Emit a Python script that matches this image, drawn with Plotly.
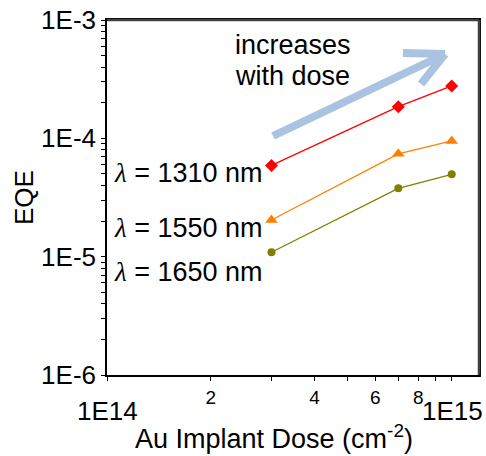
import plotly.graph_objects as go
import math

# Data
dose = [3e14, 7e14, 1e15]
eqe_1310 = [5.9e-5, 1.85e-4, 2.77e-4]
eqe_1550 = [2.04e-5, 7.4e-5, 9.5e-5]
eqe_1650 = [1.09e-5, 3.78e-5, 4.97e-5]
series_labels = ["1310 nm", "1550 nm", "1650 nm"]
y_tick_vals = [m * 10 ** e for e in (-6, -5, -4) for m in range(1, 10)] + [1e-3]
y_tick_text = [("1E%d" % e) if m == 1 else "" for e in (-6, -5, -4) for m in range(1, 10)] + ["1E-3"]
x_tick_vals = [m * 1e14 for m in range(1, 11)]
x_tick_text = ["", "2", "", "4", "", "6", "", "8", "", ""]

FONT = "Arial, Liberation Sans, sans-serif"

fig = go.Figure()
fig.add_trace(go.Scatter(x=dose, y=eqe_1310, mode="lines+markers",
                         line=dict(color="#FF0000", width=1.3),
                         marker=dict(symbol="diamond", size=10, color="#FF0000")))
fig.add_trace(go.Scatter(x=dose, y=eqe_1550, mode="lines+markers",
                         line=dict(color="#FF8000", width=1.3),
                         marker=dict(symbol="triangle-up", size=11, color="#FF8000")))
fig.add_trace(go.Scatter(x=dose, y=eqe_1650, mode="lines+markers",
                         line=dict(color="#808000", width=1.3),
                         marker=dict(symbol="circle", size=8, color="#808000")))

L, R, T, B = 107, 7, 20, 81
W, H = 486, 456
pw, ph = W - L - R, H - T - B


def px(x):
    return (x - L) / pw


def py(y):
    return (H - B - y) / ph


fig.update_layout(
    width=W, height=H,
    margin=dict(l=L, r=R, t=T, b=B, autoexpand=False),
    paper_bgcolor="white", plot_bgcolor="white",
    showlegend=False,
    font=dict(family=FONT, color="black"),
)
fig.update_xaxes(type="log", range=[14, math.log10(1.2e15)],
                 tickmode="array", tickvals=x_tick_vals, ticktext=x_tick_text,
                 ticks="outside", ticklen=4, tickwidth=1.3, tickcolor="black",
                 tickfont=dict(size=19, family=FONT),
                 showline=True, linecolor="black", linewidth=1.6, mirror=True,
                 showgrid=False, zeroline=False)
fig.update_yaxes(type="log", range=[-6, -3],
                 tickmode="array", tickvals=y_tick_vals, ticktext=y_tick_text,
                 ticks="outside", ticklen=4, tickwidth=1.3, tickcolor="black",
                 tickfont=dict(size=26, family=FONT),
                 showline=True, linecolor="black", linewidth=1.6, mirror=True,
                 showgrid=False, zeroline=False)

ann = []
ann.append(dict(x=px(107), y=py(411), text="1E14",
                font=dict(size=26, family=FONT)))
ann.append(dict(x=px(452), y=py(411), text="1E15",
                font=dict(size=26, family=FONT)))
ann.append(dict(x=px(274), y=py(437), text="Au Implant Dose (cm<sup>-2</sup>)",
                font=dict(size=27, family=FONT)))
ann.append(dict(x=px(24), y=py(198), text="EQE", textangle=-90,
                font=dict(size=26, family=FONT)))
ann.append(dict(x=px(233), y=py(45), text="increases", xanchor="left",
                font=dict(size=27, family=FONT)))
ann.append(dict(x=px(233), y=py(76), text="with dose", xanchor="left",
                font=dict(size=27, family=FONT)))
for lab, yy in zip(series_labels, [173, 228, 272]):
    ann.append(dict(x=px(112), y=py(yy), xanchor="left",
                    text="<span style='font-family:Liberation Serif, serif'><i>λ</i></span> = " + lab,
                    font=dict(size=27, family=FONT)))
for a in ann:
    a.setdefault("xref", "paper")
    a.setdefault("yref", "paper")
    a.setdefault("xanchor", "center")
    a.setdefault("yanchor", "middle")
    a.setdefault("showarrow", False)
fig.update_layout(annotations=ann)

# plot frame (top and right edges)
fig.add_shape(type="line", xref="paper", yref="paper", x0=0, y0=1, x1=1, y1=1,
              line=dict(color="#404040", width=2.5), layer="above")
fig.add_shape(type="line", xref="paper", yref="paper", x0=1, y0=0, x1=1, y1=1,
              line=dict(color="#404040", width=2.5), layer="above")

# decorative arrow
arrow_col = "#A9C3E0"
tip = (445, 54)
for (x0, y0) in [(273, 136), (403, 53), (421, 84)]:
    fig.add_shape(type="line", xref="paper", yref="paper",
                  x0=px(x0), y0=py(y0), x1=px(tip[0]), y1=py(tip[1]),
                  line=dict(color=arrow_col, width=8))

fig.write_html("out.html")
